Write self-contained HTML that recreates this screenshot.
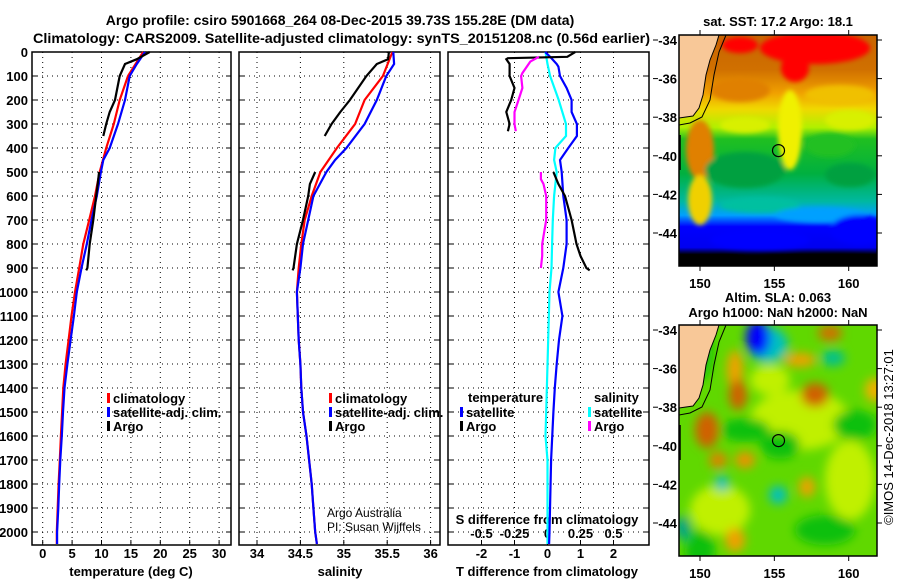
<!DOCTYPE html>
<html><head><meta charset="utf-8"><style>
html,body{margin:0;padding:0;background:#fff;width:900px;height:580px;overflow:hidden}
svg{display:block;font-family:"Liberation Sans",Arial,sans-serif}
.b{font-weight:bold;font-size:13px}
</style></head><body>
<svg id="c" width="900" height="580" viewBox="0 0 900 580">
<defs>
<filter id="bl" x="-50%" y="-50%" width="200%" height="200%"><feGaussianBlur stdDeviation="5"/></filter>
<filter id="bl2" x="-50%" y="-50%" width="200%" height="200%"><feGaussianBlur stdDeviation="2.5"/></filter>
<clipPath id="m1"><rect x="679" y="35" width="198" height="231"/></clipPath>
<clipPath id="m2"><rect x="679" y="325" width="198" height="231"/></clipPath>
<linearGradient id="sstg" x1="0" y1="0" x2="0" y2="1">
<stop offset="0" stop-color="#c86400"/><stop offset="0.15" stop-color="#d07000"/>
<stop offset="0.25" stop-color="#f0a000"/><stop offset="0.32" stop-color="#f0d800"/>
<stop offset="0.4" stop-color="#b0f000"/><stop offset="0.45" stop-color="#20c020"/>
<stop offset="0.6" stop-color="#00b040"/><stop offset="0.72" stop-color="#00b8a0"/>
<stop offset="0.78" stop-color="#00a0ff"/><stop offset="0.83" stop-color="#0000ff"/>
<stop offset="0.92" stop-color="#0000f0"/><stop offset="0.95" stop-color="#000"/>
<stop offset="1" stop-color="#000"/>
</linearGradient>
</defs>
<text x="340" y="25" text-anchor="middle" class="b" style="font-size:14px">Argo profile: csiro 5901668_264 08-Dec-2015 39.73S 155.28E (DM data)</text>
<text x="33" y="43" textLength="617" lengthAdjust="spacingAndGlyphs" class="b" style="font-size:14px">Climatology: CARS2009. Satellite-adjusted climatology: synTS_20151208.nc (0.56d earlier)</text>
<g id="g"></g>
</svg>
<script>
// ---- data ----
const climDepth=[0,100,200,300,400,500,600,700,800,900,1000,1100,1200,1300,1400,1500,1600,1700,1800,1900,2000,2050];
const climT=[17.1,14.5,13.1,12.1,10.8,9.7,8.9,7.9,6.9,6.2,5.5,4.9,4.4,3.9,3.5,3.3,3.1,2.9,2.7,2.55,2.4,2.4];
const climS=[35.56,35.45,35.24,35.13,34.92,34.73,34.63,34.55,34.51,34.48,34.46,34.47,34.48,34.50,34.51,34.53,34.57,34.60,34.63,34.65,34.67,34.69];
const satDepth=[0,50,100,200,300,400,450,500,600,700,800,900,1000,1100,1200,1300,1400,1500,1600,1700,1800,1900,2000,2050];
const satT=[17.4,16.0,14.8,14.0,12.8,11.4,10.3,9.9,9.2,8.3,7.5,6.6,5.8,5.3,4.75,4.2,3.7,3.45,3.25,3.0,2.8,2.65,2.45,2.45];
const satS=[35.57,35.58,35.49,35.38,35.24,35.03,34.90,34.80,34.65,34.59,34.53,34.50,34.46,34.47,34.48,34.50,34.51,34.53,34.57,34.60,34.63,34.65,34.67,34.69];
const argoDepth1=[0,30,50,100,200,250,300,350];
const argoT1=[18.2,16.0,14.0,13.1,12.3,11.4,10.8,10.3];
const argoS1=[35.52,35.51,35.38,35.26,35.07,34.96,34.86,34.78];
const argoDepth2=[500,550,600,700,800,900,910];
const argoT2=[9.6,9.35,9.1,8.6,8.0,7.6,7.4];
const argoS2=[34.67,34.61,34.59,34.53,34.46,34.42,34.41];
const dTsatDepth=[0,20,50,61,100,150,200,250,300,350,400,450,500,600,700,800,900,1000,1100,1200,1300,1400,1500,1700,2000,2050];
const dTsat=[-0.07,0.08,0.28,0.33,0.38,0.58,0.73,0.73,0.89,0.89,0.63,0.38,0.43,0.48,0.58,0.58,0.48,0.33,0.45,0.35,0.28,0.22,0.18,0.11,0.06,0.05];
const dSsatDepth=[0,50,100,200,300,350,400,450,500,600,700,800,900,1000,1500,1600,1700,2000,2050];
const dSsat=[-0.015,0.0,0.02,0.085,0.14,0.14,0.06,0.05,0.07,0.05,0.04,0.035,0.03,0.015,-0.01,-0.015,0.0,0.0,0.0];
const dTargoDepth1=[0,20,26,30,50,100,150,200,250,300,330];
const dTargo1=[0.84,0.6,-1.2,-1.25,-1.15,-1.15,-1.0,-1.1,-1.25,-1.15,-1.2];
const dTargoDepth2=[500,550,600,700,800,850,900,910];
const dTargo2=[0.18,0.33,0.53,0.73,0.88,1.0,1.18,1.28];
const dSargoDepth1=[20,40,88,100,150,200,250,300,330];
const dSargo1=[-0.065,-0.13,-0.19,-0.2,-0.19,-0.22,-0.25,-0.25,-0.24];
const dSargoDepth2=[500,530,550,600,700,800,850,900];
const dSargo2=[-0.05,-0.05,-0.03,-0.01,-0.01,-0.04,-0.04,-0.05];
const depthTicks=[0,100,200,300,400,500,600,700,800,900,1000,1100,1200,1300,1400,1500,1600,1700,1800,1900,2000];
const tTicks=[0,5,10,15,20,25,30];
const sTicks=[34,34.5,35,35.5,36];
const sTickLabels=["34","34.5","35","35.5","36"];
const dtTicks=[-2,-1,0,1,2];
const dsTicks=[-0.5,-0.25,0,0.25,0.5];
const dsTickLabels=["-0.5","-0.25","0","0.25","0.5"];
const lonTicks=[150,155,160];
const latTicks=[-34,-36,-38,-40,-42,-44];
const argoLon=155.28, argoLat=-39.73;

// ---- axes ----
const yD=d=>52+d*0.24;
const xT=t=>42.7+t*5.88;
const xS=s=>257+(s-34)*86.8;
const xdT=v=>547.5+v*33;
const xdS=v=>547.5+v*132;
const mx=lon=>700+(lon-150)*14.87;
const my=(lat,y0)=>y0+(-34-lat)*19.3;

const NS='http://www.w3.org/2000/svg';
const G=document.getElementById('g');
function mk(tag,at,parent){const e=document.createElementNS(NS,tag);for(const k in at)e.setAttribute(k,at[k]);(parent||G).appendChild(e);return e;}
function txt(x,y,s,anchor,cls,extra){const e=mk('text',Object.assign({x:x,y:y,'text-anchor':anchor||'start'},extra||{}));if(cls)e.setAttribute('class',cls);e.textContent=s;return e;}

const panels=[{l:32,r:231,xs:tTicks.map(xT)},{l:239,r:440,xs:sTicks.map(xS)},{l:448,r:649,xs:dtTicks.map(xdT)}];
const pTop=52,pBot=545;
panels.forEach((p,i)=>{
  p.xs.forEach(x=>{const ln=mk('line',{x1:x,x2:x,y1:pTop,y2:pBot,stroke:'#000','stroke-dasharray':'1 4','stroke-width':1});
    
    
    mk('line',{x1:x,x2:x,y1:pBot,y2:pBot-5,stroke:'#000'});});
  depthTicks.forEach(d=>{const y=yD(d);const ln=mk('line',{x1:p.l,x2:p.r,y1:y,y2:y,stroke:'#000','stroke-dasharray':'1 4','stroke-width':1});
    
    
    mk('line',{x1:p.l,x2:p.l+5,y1:y,y2:y,stroke:'#000'});mk('line',{x1:p.r,x2:p.r-5,y1:y,y2:y,stroke:'#000'});});
  const fr=mk('rect',{x:p.l,y:pTop,width:p.r-p.l,height:pBot-pTop,fill:'none',stroke:'#000','stroke-width':1.5});
  
  
});
depthTicks.forEach(d=>{const t=txt(28,yD(d)+5,String(d),'end','b');
  
  });
tTicks.forEach(v=>{const t=txt(xT(v),558,String(v),'middle','b');
  
  });
sTicks.forEach((v,i)=>{const t=txt(xS(v),558,sTickLabels[i],'middle','b');
  
  });
dtTicks.forEach(v=>{const t=txt(xdT(v),558,String(v),'middle','b');
  
  });
dsTicks.forEach((v,i)=>{const t=txt(xdS(v),538,dsTickLabels[i],'middle','b');
  
  });
let tt0;
tt0=txt(131,576,'temperature (deg C)','middle','b');
tt0=txt(340,576,'salinity','middle','b');
tt0=txt(547,576,'T difference from climatology','middle','b');
tt0=txt(547,524,'S difference from climatology','middle','b');

function line(depths,vals,fx,color,name){
  const pts=depths.map((d,i)=>fx(vals[i]).toFixed(1)+','+yD(d).toFixed(1)).join(' ');
  const e=mk('polyline',{points:pts,fill:'none',stroke:color,'stroke-width':2.2,'stroke-linejoin':'miter'});
  
  
}
line(climDepth,climT,xT,'#ff0000','climatology-temperature-line');
line(satDepth,satT,xT,'#0000ff','satellite-temperature-line');
line(argoDepth1,argoT1,xT,'#000','argo-temperature-line-upper');
line(argoDepth2,argoT2,xT,'#000','argo-temperature-line-lower');
line(climDepth,climS,xS,'#ff0000','climatology-salinity-line');
line(satDepth,satS,xS,'#0000ff','satellite-salinity-line');
line(argoDepth1,argoS1,xS,'#000','argo-salinity-line-upper');
line(argoDepth2,argoS2,xS,'#000','argo-salinity-line-lower');
line(dSsatDepth,dSsat,xdS,'#00ffff','satellite-salinity-diff-line');
line(dTsatDepth,dTsat,xdT,'#0000ff','satellite-temperature-diff-line');
line(dTargoDepth1,dTargo1,xdT,'#000','argo-temperature-diff-line-upper');
line(dTargoDepth2,dTargo2,xdT,'#000','argo-temperature-diff-line-lower');
line(dSargoDepth1,dSargo1,xdS,'#ff00ff','argo-salinity-diff-line-upper');
line(dSargoDepth2,dSargo2,xdS,'#ff00ff','argo-salinity-diff-line-lower');

function leg(x,y,color,label,name){
  const r=mk('rect',{x:x,y:y-10,width:3,height:10,fill:color});
  
  
  const tt=txt(x+6,y,label,'start','b');
  
  
}
leg(107,403,'#ff0000','climatology','legend-climatology');
leg(107,417,'#0000ff','satellite-adj. clim.','legend-satellite');
leg(107,431,'#000','Argo','legend-argo');
leg(329,403,'#ff0000','climatology','legend-climatology-2');
leg(329,417,'#0000ff','satellite-adj. clim.','legend-satellite-2');
leg(329,431,'#000','Argo','legend-argo-2');
tt0=txt(468,402,'temperature','start','b');
tt0=txt(594,402,'salinity','start','b');
leg(460,417,'#0000ff','satellite','legend-t-satellite');
leg(460,431,'#000','Argo','legend-t-argo');
leg(588,417,'#00ffff','satellite','legend-s-satellite');
leg(588,431,'#ff00ff','Argo','legend-s-argo');
tt0=txt(327,517,'Argo Australia','start',null,{'font-size':'12'});
tt0=txt(327,531,'PI: Susan Wijffels','start',null,{'font-size':'12'});

// ---- maps ----
function land(topY,grp){
  const p=mk('polygon',{points:`679,${topY-5} 719,${topY-5} 716,${topY+5} 710,${topY+20} 706,${topY+35} 703,${topY+55} 699,${topY+68} 693,${topY+76} 679,${topY+78}`,fill:'#f8c898'},grp);
  
  
  mk('polyline',{points:`719,${topY-5} 716,${topY+5} 710,${topY+20} 706,${topY+35} 703,${topY+55} 699,${topY+68} 693,${topY+76} 679,${topY+78}`,fill:'none',stroke:'#000','stroke-width':1},grp);
  mk('polyline',{points:`726,${topY-5} 719,${topY+12} 714,${topY+35} 710,${topY+60} 702,${topY+77} 690,${topY+83} 679,${topY+85}`,fill:'none',stroke:'#000','stroke-width':1},grp);
  mk('line',{x1:680,y1:topY+95,x2:680,y2:topY+130,stroke:'#000','stroke-width':1.5},grp);
}
// SST map
const g1=mk('g',{'clip-path':'url(#m1)'});


mk('rect',{x:679,y:35,width:198,height:231,fill:'url(#sstg)'},g1);
const gb1=mk('g',{filter:'url(#bl2)'},g1);
[['#ff0000',815,48,55,16],['#ff0000',795,68,14,14],['#ff0000',740,45,18,8],['#e08000',740,90,30,12],['#f0c000',840,95,35,10],
 ['#f0f000',790,130,12,40],['#d8f000',850,120,25,10],['#d8f000',745,125,25,8],
 ['#e08000',700,150,14,30],['#f0d000',700,200,12,25],['#00a040',745,170,40,18],['#00a040',850,175,25,12],['#20c020',830,145,25,12],
 ['#00c0a0',760,205,40,8],['#00a0ff',820,215,45,8],['#0000ff',860,230,30,15],['#0000ff',760,240,50,10],['#000',830,262,60,8],['#000',740,262,40,6]].forEach(b=>{
  mk('ellipse',{cx:b[1],cy:b[2],rx:b[3],ry:b[4],fill:b[0]},gb1);});
land(40,g1);
// SLA map
const g2=mk('g',{'clip-path':'url(#m2)'});


mk('rect',{x:679,y:325,width:198,height:231,fill:'#60d800'},g2);
const gb2=mk('g',{filter:'url(#bl)'},g2);
[['#c0f000',800,420,50,30],['#c0f000',720,510,30,25],['#c0f000',850,480,25,40],['#c0f000',770,380,20,15],
 ['#10c010',700,350,12,30],['#10c010',745,430,25,12],['#10c010',855,425,22,15],['#10c010',780,445,20,14],['#10c010',700,550,15,20],['#10c010',825,530,30,15],
 ['#f0a000',735,370,8,20],['#d06000',738,395,9,15],['#d06000',707,430,12,18],['#e08000',718,460,9,8],['#f09000',745,460,10,8],
 ['#d06000',815,395,14,12],['#d07000',830,333,12,8],['#f0a000',800,360,16,7],['#f0a000',807,487,8,10],['#f0a000',735,540,10,12],['#f0b000',875,390,10,12],
 ['#00c0c0',722,483,7,8],['#00c0c0',778,495,9,9],['#00a090',683,528,7,12],['#00c090',833,358,12,8],['#00c0c0',768,345,20,18],
 ['#0000ff',758,338,12,18]].forEach(b=>{
  mk('ellipse',{cx:b[1],cy:b[2],rx:b[3],ry:b[4],fill:b[0]},gb2);});
land(330,g2);
// map frames/ticks
[[35,40,'top'],[325,330,'bottom']].forEach(([y0,lat0,nm])=>{
  const fr=mk('rect',{x:679,y:y0,width:198,height:231,fill:'none',stroke:'#000','stroke-width':1.5});
  
  
  lonTicks.forEach(lon=>{const x=mx(lon);
    mk('line',{x1:x,x2:x,y1:y0,y2:y0-5,stroke:'#000'});mk('line',{x1:x,x2:x,y1:y0+231,y2:y0+236,stroke:'#000'});
    const tl=txt(x,y0+253,String(lon),'middle','b');
    
    });
  latTicks.forEach(lat=>{const y=my(lat,lat0);
    mk('line',{x1:877,x2:882,y1:y,y2:y,stroke:'#000'});mk('line',{x1:653,x2:658,y1:y,y2:y,stroke:'#000'});
    const tl=txt(677,y+5,String(lat),'end','b');
    
    });
  const c=mk('circle',{cx:mx(argoLon),cy:my(argoLat,lat0),r:6,fill:'none',stroke:'#000','stroke-width':1.2});
  
  
});
tt0=txt(778,26,'sat. SST: 17.2 Argo: 18.1','middle','b');
tt0=txt(778,302,'Altim. SLA: 0.063','middle','b');
tt0=txt(778,317,'Argo h1000: NaN h2000: NaN','middle','b');
tt0=txt(0,0,'©IMOS 14-Dec-2018 13:27:01','middle',null,{'font-size':'13',transform:'translate(893,437) rotate(-90)'});


</script>
</body></html>
